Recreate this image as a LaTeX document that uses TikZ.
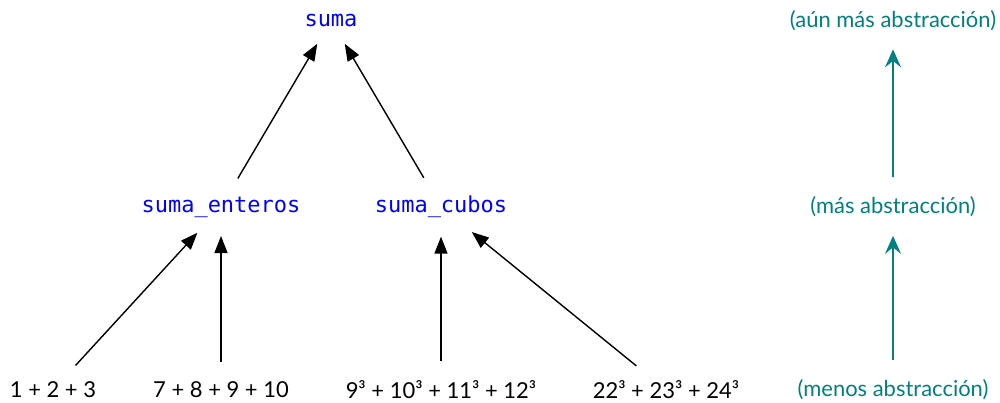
\documentclass[tikz,border=0pt]{standalone}
\usepackage{fontspec}
\setmainfont{Lato}
\newfontfamily\codefont{DejaVu Sans Mono}
\usepackage{tikz}
\usetikzlibrary{arrows.meta,positioning}

\begin{document}
\begin{tikzpicture}[
  flecha/.style={-{Triangle[length=3.4mm,width=2.6mm]}, line width=0.8pt, shorten <=2.8mm, shorten >=2.5mm},
  nivel/.style={-{Stealth[length=3.6mm,width=3.2mm,inset=1.3mm]}, line width=0.8pt, color=teal, shorten <=2.8mm, shorten >=2.5mm},
  funcion/.style={font=\codefont\fontsize{12.5pt}{15pt}\selectfont, text=blue},
  caso/.style={font=\fontsize{12.5pt}{15pt}\selectfont},
  etiqueta/.style={font=\fontsize{12.5pt}{15pt}\selectfont, text=teal}
]
  \useasboundingbox (0,0) rectangle (20,8.04);

  % --- FUNCIONES ---
  \node[funcion] (suma) at (6.62, 7.63) {suma};
  \node[funcion] (enteros) at (4.42, 3.90) {suma\_enteros};
  \node[funcion] (cubos) at (8.82, 3.90) {suma\_cubos};

  % --- CASOS CONCRETOS ---
  \node[caso] (c1) at (1.06, 0.24) {1 + 2 + 3};
  \node[caso] (c2) at (4.42, 0.24) {7 + 8 + 9 + 10};
  \node[caso] (c3) at (8.82, 0.24) {9³ + 10³ + 11³ + 12³};
  \node[caso] (c4) at (13.32, 0.24) {22³ + 23³ + 24³};

  % --- NIVELES DE ABSTRACCION ---
  \node[etiqueta] (alto) at (17.86, 7.63) {(aún más abstracción)};
  \node[etiqueta] (medio) at (17.86, 3.90) {(más abstracción)};
  \node[etiqueta] (bajo) at (17.86, 0.24) {(menos abstracción)};

  % --- CONEXIONES ---
  \draw[flecha] (enteros) -- (suma);
  \draw[flecha] (cubos) -- (suma);
  \draw[flecha] (c1) -- (enteros);
  \draw[flecha] (c2) -- (enteros);
  \draw[flecha] (c3) -- (cubos);
  \draw[flecha] (c4) -- (cubos);

  \draw[nivel] (bajo) -- (medio);
  \draw[nivel] (medio) -- (alto);

\end{tikzpicture}
\end{document}
